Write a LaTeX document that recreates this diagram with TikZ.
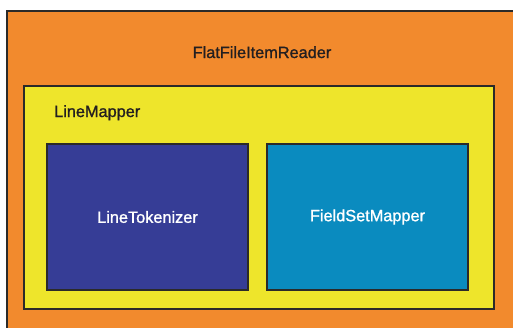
\documentclass[tikz,border=0pt]{standalone}
\usepackage{fontspec}
\setmainfont{Liberation Sans}
\newfontfamily\labelfont[FakeBold=1.2]{Liberation Sans}
\usetikzlibrary{positioning,shadows}
\definecolor{Frame}{HTML}{2B2A29}
\definecolor{Orange}{HTML}{F28A2D}
\definecolor{Lemon}{HTML}{EEE52B}
\definecolor{Indigo}{HTML}{363D96}
\definecolor{Ocean}{HTML}{0A8BBF}
\definecolor{Ink}{HTML}{231F20}
\tikzset{
 layer/.style={draw=Frame,line width=2pt,rectangle,anchor=north west,outer sep=0pt,inner sep=0pt,
   drop shadow={shadow xshift=1.2pt,shadow yshift=-1.2pt,fill=black,opacity=0.35}},
 title/.style={font=\labelfont\fontsize{16.3}{18}\selectfont,text=Ink,inner sep=0pt},
 inner/.style={title,text=white}
}
\begin{document}
\begin{tikzpicture}[x=1pt,y=-1pt]
\useasboundingbox (0,0) rectangle (513,327);
\clip (0,0) rectangle (513,327);
% reader, mapper and its two parts
\node[layer,fill=Orange,minimum width=520pt,minimum height=330pt] (reader) at (6.5,11) {};
\node[layer,fill=Lemon,minimum width=470pt,minimum height=223pt] (mapper) at (24,86) {};
\node[layer,fill=Indigo,minimum width=201pt,minimum height=146pt] (tokenizer) at (47,144) {};
\node[layer,fill=Ocean,minimum width=201pt,minimum height=146pt] (fsmapper) at (267,144) {};
\node[title,anchor=base] (readerlbl) at (262,58) {FlatFileItemReader};
\node[title,anchor=base west] (mapperlbl) at (54,117) {LineMapper};
\node[inner] (tokenizerlbl) at (tokenizer.center) {LineTokenizer};
\node[inner] (fsmapperlbl) at (fsmapper.center) {FieldSetMapper};
\end{tikzpicture}
\end{document}
